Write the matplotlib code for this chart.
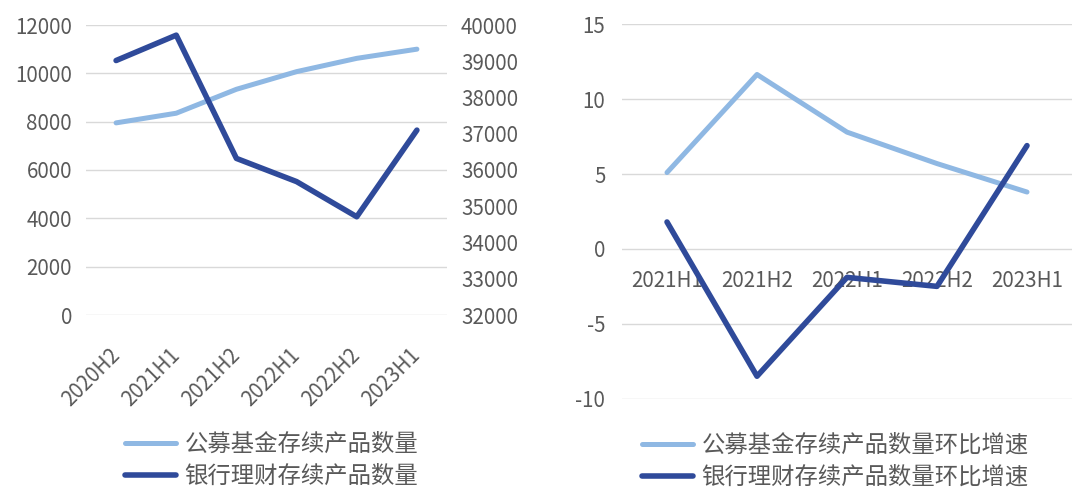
import matplotlib
matplotlib.use("Agg")
import matplotlib.pyplot as plt
from matplotlib.transforms import ScaledTranslation
import numpy as np

plt.rcParams['font.family'] = ['Noto Sans CJK SC', 'DejaVu Sans']
plt.rcParams['axes.unicode_minus'] = False

# left chart: product counts
periods_l = ['2020H2', '2021H1', '2021H2', '2022H1', '2022H2', '2023H1']
fund_count = [7950, 8350, 9340, 10070, 10620, 11000]
bank_count = [39020, 39720, 36320, 35680, 34710, 37100]

# right chart: half-year growth (%)
periods_r = ['2021H1', '2021H2', '2022H1', '2022H2', '2023H1']
fund_growth = [5.1, 11.65, 7.8, 5.7, 3.8]
bank_growth = [1.8, -8.5, -1.9, -2.5, 6.9]

light = '#8fb8e3'
dark = '#2f4a9a'
grid_c = '#d9d9d9'
txt_c = '#595959'
W, H = 1083, 497
fs_tick = 14.8
fs_leg = 16.8

fig = plt.figure(figsize=(W / 100, H / 100), dpi=100)

def px(l, t, r, b):
    return [l / W, 1 - b / H, (r - l) / W, (b - t) / H]

def clean(a):
    for s in a.spines.values():
        s.set_visible(False)
    a.tick_params(length=0, labelsize=fs_tick, colors=txt_c)

##left
ax = fig.add_axes(px(86, 25, 447, 315))
x = np.arange(len(periods_l))
l1, = ax.plot(x, fund_count, color=light, lw=3.6, solid_capstyle='round')
ax.set_ylim(0, 12000)
ax.set_yticks(np.arange(0, 12001, 2000))
ax.set_xlim(-0.5, len(periods_l) - 0.5)
ax.grid(axis='y', color=grid_c, lw=1)
ax.set_axisbelow(True)
clean(ax)
ax.tick_params(axis='y', pad=10)
ax.set_xticks(x)
ax.set_xticklabels(periods_l, rotation=45, ha='right', va='top')
ax.tick_params(axis='x', pad=21)
shift = ScaledTranslation(8 / 100, 0, fig.dpi_scale_trans)
for lab in ax.get_xticklabels():
    lab.set_transform(lab.get_transform() + shift)

ax2 = ax.twinx()
l2, = ax2.plot(x, bank_count, color=dark, lw=4, solid_capstyle='round')
ax2.set_ylim(32000, 40000)
ax2.set_yticks(np.arange(32000, 40001, 1000))
clean(ax2)
ax2.tick_params(axis='y', pad=10)

fig.legend([l1, l2], ['公募基金存续产品数量', '银行理财存续产品数量'],
           loc='upper left', bbox_to_anchor=(125 / W, 1 - 433 / H),
           frameon=False, fontsize=fs_leg, handlelength=2.2, handletextpad=0.35,
           labelspacing=0.38, borderpad=0, borderaxespad=0, labelcolor=txt_c)

##right
bx = fig.add_axes(px(622, 24.3, 1072, 398.7))
xr = np.arange(len(periods_r))
r1, = bx.plot(xr, fund_growth, color=light, lw=3.6, solid_capstyle='round')
r2, = bx.plot(xr, bank_growth, color=dark, lw=4, solid_capstyle='round')
bx.set_ylim(-10, 15)
bx.set_yticks(np.arange(-10, 16, 5))
bx.set_xlim(-0.5, len(periods_r) - 0.5)
bx.grid(axis='y', color=grid_c, lw=1)
bx.set_axisbelow(True)
clean(bx)
bx.spines['bottom'].set_position(('data', 0))
bx.set_xticks(xr)
bx.set_xticklabels(periods_r)
bx.tick_params(axis='x', pad=15)
bx.tick_params(axis='y', pad=12)

fig.legend([r1, r2], ['公募基金存续产品数量环比增速', '银行理财存续产品数量环比增速'],
           loc='upper left', bbox_to_anchor=(642 / W, 1 - 434 / H),
           frameon=False, fontsize=fs_leg, handlelength=2.2, handletextpad=0.35,
           labelspacing=0.38, borderpad=0, borderaxespad=0, labelcolor=txt_c)

plt.savefig('out.png', dpi=100)
